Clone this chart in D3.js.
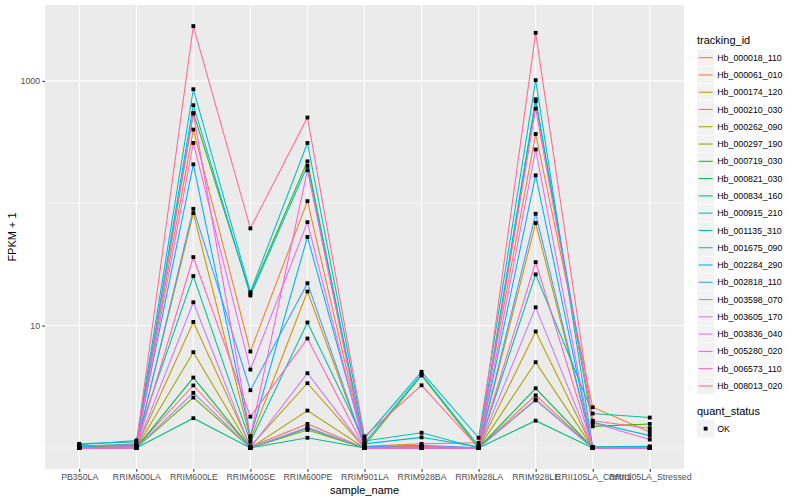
<!DOCTYPE html>
<html><head><meta charset="utf-8">
<script src="https://cdn.jsdelivr.net/npm/d3@7"></script>
<style>body{margin:0;background:#fff}svg{display:block}text{font-family:"Liberation Sans",Arial,Helvetica,sans-serif}</style>
</head><body>
<svg id="c" width="800" height="500"></svg>
<script>
const samples = ["PB350LA","RRIM600LA","RRIM600LE","RRIM600SE","RRIM600PE","RRIM901LA","RRIM928BA","RRIM928LA","RRIM928LE","RRII105LA_Control","RRII105LA_Stressed"];
const trackingIds = ["Hb_000018_110","Hb_000061_010","Hb_000174_120","Hb_000210_030","Hb_000262_090","Hb_000297_190","Hb_000719_030","Hb_000821_030","Hb_000834_160","Hb_000915_210","Hb_001135_310","Hb_001675_090","Hb_002284_290","Hb_002818_110","Hb_003598_070","Hb_003605_170","Hb_003836_040","Hb_005280_020","Hb_006573_110","Hb_008013_020"];
const seriesColors = ["#F8766D","#EA8331","#D89000","#C09B00","#A3A500","#7CAE00","#39B600","#00BB4E","#00BF7D","#00C1A3","#00BFC4","#00BAE0","#00B0F6","#35A2FF","#9590FF","#C77CFF","#E76BF3","#FA62DB","#FF62BC","#FF6C91"];
// FPKM + 1, one row per tracking id, columns follow `samples`
const fpkmPlusOne = [
  [1.00,1.02,3.24,1.02,1.57,1.00,1.02,1.00,2.69,1.00,1.00],
  [1.02,1.04,400,6.14,104,1.03,1.08,1.10,368,2.15,1.35],
  [1.00,1.03,83,1.17,19.0,1.02,1.03,1.00,68.9,1.02,1.00],
  [1.00,1.00,10.7,1.03,3.38,1.00,1.00,1.00,8.95,1.00,1.00],
  [1.00,1.00,6.06,1.00,2.02,1.00,1.00,1.00,5.02,1.00,1.00],
  [1.00,1.00,2.58,1.00,1.40,1.00,1.00,1.00,2.49,1.00,1.00],
  [1.03,1.05,547,18.2,220,1.05,3.91,1.00,682,1.50,1.57],
  [1.00,1.00,3.76,1.00,1.45,1.00,1.00,1.00,3.07,1.00,1.00],
  [1.00,1.00,1.75,1.00,1.21,1.00,1.00,1.00,1.67,1.00,1.00],
  [1.06,1.15,25.4,1.12,10.6,1.14,1.33,1.00,26.2,1.91,1.77],
  [1.08,1.12,855,18.8,311,1.20,4.19,1.21,1014,1.02,1.03],
  [1.04,1.06,633,17.6,202,1.10,4.00,1.04,708,1.62,1.26],
  [1.02,1.08,208,1.22,53,1.08,1.22,1.02,169,1.00,1.02],
  [1.00,1.02,90,2.96,22.2,1.02,1.05,1.00,82,1.00,1.00],
  [1.00,1.00,2.82,1.00,1.47,1.00,1.00,1.00,2.45,1.00,1.00],
  [1.00,1.00,15.5,1.00,4.08,1.00,1.00,1.00,14.1,1.00,1.00],
  [1.00,1.02,311,4.37,70,1.00,1.02,1.00,275,1.00,1.00],
  [1.00,1.00,540,1.25,186,1.00,1.00,1.00,594,1.60,1.17],
  [1.00,1.00,36.3,1.80,7.84,1.00,1.00,1.00,33.0,1.00,1.00],
  [1.04,1.06,2805,62.3,502,1.24,3.25,1.00,2472,1.67,1.45]
];
const yTicks = [10, 1000];
const yMinorTicks = [1, 100];
const quantStatus = ["OK"];

const svg = d3.select("#c");
const P = {l:45, r:684, t:5, b:469};

const x = d3.scalePoint().domain(samples).range([P.l, P.r]).padding(0.6);
const all = fpkmPlusOne.flat();
const lo = Math.log10(d3.min(all)), hi = Math.log10(d3.max(all));
const ex = (hi - lo) * 0.05;
const y = d3.scaleLog().domain([Math.pow(10, lo - ex), Math.pow(10, hi + ex)]).range([P.b, P.t]);

svg.append("rect").attr("x",P.l).attr("y",P.t).attr("width",P.r-P.l).attr("height",P.b-P.t).attr("fill","#EBEBEB");
const g = svg.append("g");
g.selectAll("line.ymin").data(yMinorTicks).join("line")
  .attr("x1",P.l).attr("x2",P.r).attr("y1",d=>y(d)).attr("y2",d=>y(d))
  .attr("stroke","#fff").attr("stroke-width",0.55);
g.selectAll("line.ymaj").data(yTicks).join("line")
  .attr("x1",P.l).attr("x2",P.r).attr("y1",d=>y(d)).attr("y2",d=>y(d))
  .attr("stroke","#fff").attr("stroke-width",1.1);
g.selectAll("line.xmaj").data(samples).join("line")
  .attr("x1",d=>x(d)).attr("x2",d=>x(d)).attr("y1",P.t).attr("y2",P.b)
  .attr("stroke","#fff").attr("stroke-width",1.1);

const line = d3.line().x((d,i)=>x(samples[i])).y(d=>y(d));
svg.append("g").selectAll("path").data(fpkmPlusOne).join("path")
  .attr("d", line).attr("fill","none")
  .attr("stroke",(d,i)=>seriesColors[i]).attr("stroke-width",1.07);

const pts = [];
fpkmPlusOne.forEach((row,i)=>row.forEach((v,j)=>pts.push({s:samples[j], v})));
svg.append("g").selectAll("rect").data(pts).join("rect")
  .attr("x",d=>x(d.s)-1.9).attr("y",d=>y(d.v)-1.9).attr("width",3.8).attr("height",3.8).attr("fill","#000");

// axes
const yAxis = d3.axisLeft(y).tickValues(yTicks).tickFormat(d3.format("d")).tickSize(2.7).tickPadding(2.2);
const ya = svg.append("g").attr("transform",`translate(${P.l},0)`).call(yAxis);
ya.select(".domain").remove();
ya.selectAll("line").attr("stroke","#333").attr("stroke-width",1.07);
ya.selectAll("text").attr("fill","#4D4D4D").style("font-size","8.8px");

const xAxis = d3.axisBottom(x).tickSize(2.7).tickPadding(2.2);
const xa = svg.append("g").attr("transform",`translate(0,${P.b})`).call(xAxis);
xa.select(".domain").remove();
xa.selectAll("line").attr("stroke","#333").attr("stroke-width",1.07);
xa.selectAll("text").attr("fill","#4D4D4D").style("font-size","8.8px");

svg.append("text").attr("x",(P.l+P.r)/2).attr("y",494).attr("text-anchor","middle").style("font-size","11px").text("sample_name");
svg.append("text").attr("transform",`translate(16,${(P.t+P.b)/2}) rotate(-90)`).attr("text-anchor","middle").style("font-size","11px").text("FPKM + 1");

// legend
const L = svg.append("g").attr("transform","translate(697,0)");
L.append("text").attr("x",0).attr("y",44).style("font-size","11px").text("tracking_id");
const key = 17.28, top0 = 49;
const items = L.selectAll("g.k").data(trackingIds).join("g").attr("transform",(d,i)=>`translate(0,${top0+i*key})`);
items.append("rect").attr("width",key).attr("height",key).attr("fill","#F2F2F2").attr("stroke","#fff").attr("stroke-width",0.5);
items.append("line").attr("x1",1.7).attr("x2",key-1.7).attr("y1",key/2).attr("y2",key/2).attr("stroke",(d,i)=>seriesColors[i]).attr("stroke-width",1.07);
items.append("text").attr("x",key+3).attr("y",key/2+3.1).style("font-size","8.8px").attr("fill","#000").text(d=>d);

L.append("text").attr("x",0).attr("y",415).style("font-size","11px").text("quant_status");
const q = L.selectAll("g.q").data(quantStatus).join("g").attr("transform",(d,i)=>`translate(0,${420+i*key})`);
q.append("rect").attr("width",key).attr("height",key).attr("fill","#F2F2F2");
q.append("rect").attr("x",key/2-1.9).attr("y",key/2-1.9).attr("width",3.8).attr("height",3.8).attr("fill","#000");
q.append("text").attr("x",key+3).attr("y",key/2+3.1).style("font-size","8.8px").text(d=>d);
</script>
</body></html>
